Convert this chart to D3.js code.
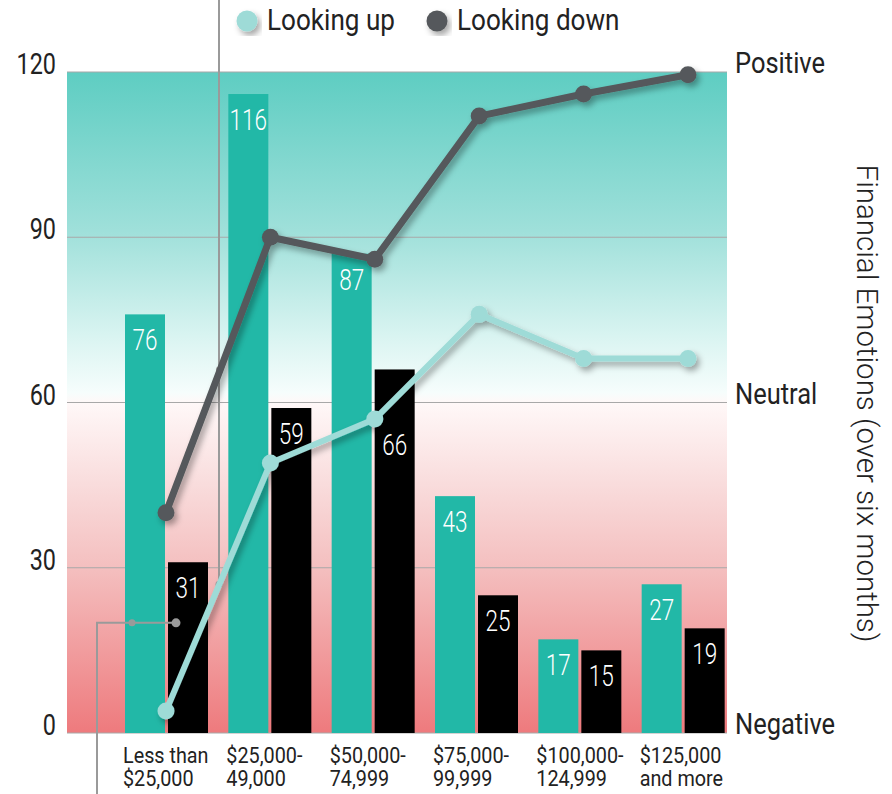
<!DOCTYPE html>
<html>
<head>
<meta charset="utf-8">
<script src="https://cdn.jsdelivr.net/npm/d3@7"></script>
<style>
  html, body { margin: 0; padding: 0; background: #fff; }
  svg { display: block; font-family: Roboto, "Noto Sans", sans-serif; }
</style>
</head>
<body>
<svg id="chart" width="892" height="794"></svg>
<script>
// Income brackets (two-line labels)
const categories = [
  ["Less than", "$25,000"],
  ["$25,000-", "49,000"],
  ["$50,000-", "74,999"],
  ["$75,000-", "99,999"],
  ["$100,000-", "124,999"],
  ["$125,000", "and more"]
];
// Bar counts
const upBars = [76, 116, 87, 43, 17, 27];
const downBars = [31, 59, 66, 25, 15, 19];
// Financial emotion index lines
const upLine = [4, 49, 57, 76, 68, 68];
const downLine = [40, 90, 86, 112, 116, 119.5];
// Axis ticks and mood labels
const yTicks = [0, 30, 60, 90, 120];
const moodNames = ["Positive", "Neutral", "Negative"];
const moodValues = [120, 60, 0];
const seriesNames = ["Looking up", "Looking down"];

const colors = {
  upBar: "#22b8a7",
  downBar: "#000000",
  upLine: "#9edbd7",
  downLine: "#55595b",
  grid: "#a8a8a8",
  leader: "#9a9a9a"
};

const svg = d3.select("#chart");
const plot = { left: 67, right: 727, top: 72, bottom: 733 };

const y = d3.scaleLinear().domain([0, 120]).range([plot.bottom, plot.top]);
const idx = d3.range(categories.length);
const x0 = d3.scaleBand().domain(idx).range([107, plot.right]);
const x1 = d3.scaleBand().domain(["up", "down"]).range([18, 101]).paddingInner(0.07);
const xp = d3.scalePoint().domain(idx).range([166, 688]);

// Condensed text helper
function label(g, x, yy, txt, opts) {
  return g.append("text")
    .attr("transform", `translate(${x},${yy}) scale(${opts.sx || 1},1)`)
    .attr("text-anchor", opts.anchor || "start")
    .attr("font-size", opts.size)
    .attr("font-weight", opts.weight || 400)
    .attr("fill", opts.fill || "#222")
    .text(txt);
}

const defs = svg.append("defs");
const grad = defs.append("linearGradient")
  .attr("id", "moodGrad").attr("x1", 0).attr("x2", 0).attr("y1", 0).attr("y2", 1);
[
  [0, "#5ecdc2"],
  [0.24, "#9fe0da"],
  [0.40, "#d9f4f1"],
  [0.485, "#f6fdfc"],
  [0.50, "#fff8f8"],
  [0.62, "#f9dddd"],
  [0.75, "#f4bfbf"],
  [1, "#ee7a7d"]
].forEach(([o, c]) => grad.append("stop").attr("offset", o).attr("stop-color", c));

const shadow = defs.append("filter").attr("id", "shadow")
  .attr("x", "-20%").attr("y", "-20%").attr("width", "140%").attr("height", "140%");
shadow.append("feDropShadow")
  .attr("dx", 3).attr("dy", 4).attr("stdDeviation", 3)
  .attr("flood-color", "#000").attr("flood-opacity", 0.35);

// Background band
svg.append("rect")
  .attr("x", plot.left).attr("y", y(120))
  .attr("width", plot.right - plot.left).attr("height", y(0) - y(120))
  .attr("fill", "url(#moodGrad)");

// Gridlines
svg.append("g").selectAll("line").data(yTicks).join("line")
  .attr("x1", plot.left).attr("x2", plot.right)
  .attr("y1", d => y(d)).attr("y2", d => y(d))
  .attr("stroke", colors.grid).attr("stroke-width", 1.2);

// Y tick labels
const yLab = svg.append("g");
yTicks.forEach(t => label(yLab, 56, y(t) + 2, t, { size: 30, sx: 0.78, anchor: "end" }));

// Mood labels on the right
const moodG = svg.append("g");
moodNames.forEach((m, i) => label(moodG, 735, y(moodValues[i]) + 1, m, { size: 30, sx: 0.85 }));

// Right title
svg.append("text")
  .attr("transform", `translate(857,${(plot.top + plot.bottom) / 2 + 1}) rotate(90)`)
  .attr("text-anchor", "middle")
  .attr("font-size", 29.5)
  .attr("font-weight", 300)
  .attr("fill", "#222")
  .text("Financial Emotions (over six months)");

// Bars
const barG = svg.append("g");
const bars = [];
idx.forEach(i => {
  [["up", upBars[i], colors.upBar], ["down", downBars[i], colors.downBar]].forEach(([k, v, c]) => {
    const bx = x0(i) + x1(k);
    barG.append("rect")
      .attr("x", bx).attr("y", y(v))
      .attr("width", x1.bandwidth()).attr("height", y(0) - y(v))
      .attr("fill", c);
    bars.push({ x: bx + x1.bandwidth() / 2, top: y(v), v });
  });
});

// Line geometry
const upPts = idx.map(i => [xp(i), y(upLine[i])]);
const downPts = idx.map(i => [xp(i), y(downLine[i])]);
function lineYAt(pts, cx) {
  for (let j = 0; j < pts.length - 1; j++) {
    const [ax, ay] = pts[j], [bx, by] = pts[j + 1];
    if (cx >= ax && cx <= bx) return ay + (by - ay) * (cx - ax) / (bx - ax);
  }
  return null;
}

// Bar value labels, pushed below a crossing line
const valG = svg.append("g");
bars.forEach(b => {
  let base = b.top + 36;
  [upPts, downPts].forEach(pts => {
    const ly = lineYAt(pts, b.x);
    if (ly !== null && ly >= b.top + 7 && ly <= base + 6) base = ly + 56;
  });
  label(valG, b.x, base, b.v, { size: 30, sx: 0.75, anchor: "middle", fill: "#fff", weight: 300 });
});

// Category labels
const catG = svg.append("g");
idx.forEach(i => {
  const lx = x0(i) + x1("up") - 2;
  label(catG, lx, 763, categories[i][0], { size: 22, sx: 0.9 });
  label(catG, lx, 786, categories[i][1], { size: 22, sx: 0.9 });
});

// Leader lines
const lead = svg.append("g").attr("stroke", colors.leader).attr("fill", "none").attr("stroke-width", 2);
lead.append("line").attr("x1", 219).attr("x2", 219).attr("y1", 0).attr("y2", y(27));
lead.append("polyline").attr("points", `97,794 97,${y(20)} 176,${y(20)}`);
const leadDots = svg.append("g").attr("fill", colors.leader);
[[219, y(66), 3], [219, y(27), 3.5], [132, y(20), 3.5], [176, y(20), 4.5]].forEach(([cx, cy, r]) =>
  leadDots.append("circle").attr("cx", cx).attr("cy", cy).attr("r", r));

// Series lines
const lineGen = d3.line();
function drawSeries(pts, color, width) {
  const g = svg.append("g").attr("filter", "url(#shadow)");
  g.append("path").attr("d", lineGen(pts))
    .attr("fill", "none").attr("stroke", color).attr("stroke-width", width)
    .attr("stroke-linejoin", "round");
  g.selectAll("circle").data(pts).join("circle")
    .attr("cx", d => d[0]).attr("cy", d => d[1]).attr("r", 8.5).attr("fill", color);
}
drawSeries(downPts, colors.downLine, 7);
drawSeries(upPts, colors.upLine, 6);

// Legend
const leg = svg.append("g");
const legItems = [[247, colors.upLine], [437, colors.downLine]];
seriesNames.forEach((n, i) => {
  leg.append("circle").attr("cx", legItems[i][0]).attr("cy", 21).attr("r", 10.5)
    .attr("fill", legItems[i][1]).attr("filter", "url(#shadow)");
  label(leg, legItems[i][0] + 20, 30, n, { size: 29, sx: 0.9 });
});
</script>
</body>
</html>
